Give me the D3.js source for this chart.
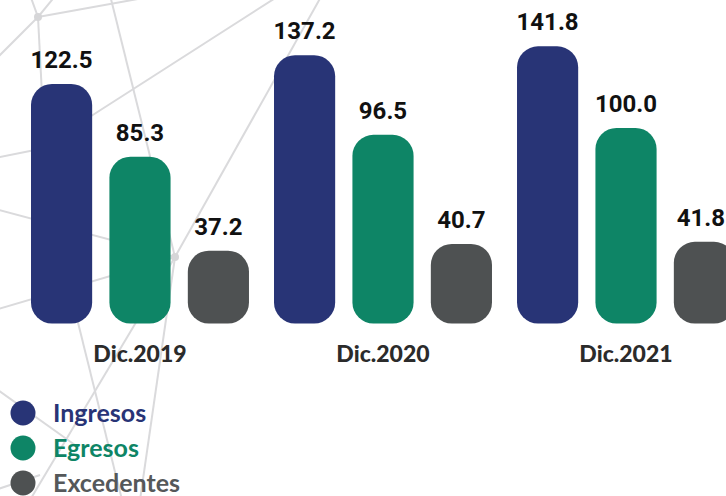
<!DOCTYPE html>
<html lang="es">
    <head>
        <meta charset="utf-8">
        <title>Ingresos, Egresos y Excedentes</title>
        <script type="text/javascript" src="https://cdn.jsdelivr.net/npm/d3@7/dist/d3.min.js"></script>
        <style>
            body { margin: 0; background: #ffffff; }
            .value { font-family: Roboto, sans-serif; font-weight: 700; font-size: 24px; fill: #111111; }
            .cat { font-family: Lato, sans-serif; font-weight: 900; font-size: 23px; fill: #2b2b2b; }
            .legend text { font-family: Lato, sans-serif; font-weight: 700; font-size: 25px; }
        </style>
    </head>
    <body>
        <script type="text/javascript">
            var w = 726;
            var h = 496;

            // data
            var years = ["Dic.2019", "Dic.2020", "Dic.2021"];
            var series = ["Ingresos", "Egresos", "Excedentes"];
            var ingresos = [122.5, 137.2, 141.8];
            var egresos = [85.3, 96.5, 100.0];
            var excedentes = [37.2, 40.7, 41.8];
            var colors = ["#283476", "#0e8566", "#4e5152"];
            var legendText = ["#283476", "#0e8566", "#55585a"];

            // light network in the background (decoration only)
            var meshLines = [
                [[38, 17], [30, -5]], [[38, 17], [56, -5]], [[38, 17], [160, -5]],
                [[38, 17], [-10, 65]], [[38, 17], [42, 95]],
                [[110, -5], [175, 257]], [[60, 136], [280, -5]], [[-5, 158], [60, 145]],
                [[175, 257], [322, -5]], [[175, 257], [-5, 209]], [[175, 257], [-5, 310]],
                [[175, 257], [30, 500]], [[175, 257], [140, 500]], [[60, 250], [122, 500]],
                [[-5, 388], [75, 445]], [[-5, 490], [40, 475]]
            ];
            var meshNodes = [[38, 17], [175, 257]];

            var baseY = 323.5;
            var pxPerUnit = 1.955;

            var rows = years.map(function (y, i) {
                return { year: y, values: [ingresos[i], egresos[i], excedentes[i]] };
            });

            var svg = d3.select("body").append("svg").attr("width", w).attr("height", h);

            var mesh = svg.append("g").attr("stroke", "#dadadc").attr("stroke-width", 2);
            mesh.selectAll("line").data(meshLines).enter().append("line")
                .attr("x1", function (d) { return d[0][0]; })
                .attr("y1", function (d) { return d[0][1]; })
                .attr("x2", function (d) { return d[1][0]; })
                .attr("y2", function (d) { return d[1][1]; });
            mesh.selectAll("circle").data(meshNodes).enter().append("circle")
                .attr("cx", function (d) { return d[0]; })
                .attr("cy", function (d) { return d[1]; })
                .attr("r", 4).attr("fill", "#d6d6d8").attr("stroke", "none");

            var x0 = d3.scaleBand().domain(years).range([31, 735]).paddingInner(0.103).paddingOuter(0);
            var x1 = d3.scaleBand().domain(series).range([0, x0.bandwidth()]).paddingInner(0.22);
            var y = d3.scaleLinear().domain([0, 150]).range([baseY, baseY - 150 * pxPerUnit]);

            var groups = svg.selectAll("g.group").data(rows).enter().append("g")
                .attr("class", "group")
                .attr("transform", function (d) { return "translate(" + x0(d.year) + ",0)"; });

            var bars = groups.selectAll("g.bar").data(function (d) {
                return d.values.map(function (v, i) { return { s: series[i], v: v, c: colors[i], gx: x0(d.year) }; });
            }).enter().append("g").attr("class", "bar");

            bars.append("rect")
                .attr("x", function (d) { return x1(d.s); })
                .attr("y", function (d) { return y(d.v); })
                .attr("width", x1.bandwidth())
                .attr("height", function (d) { return y(0) - y(d.v); })
                .attr("rx", 21).attr("ry", 21)
                .attr("fill", function (d) { return d.c; });

            bars.append("text").attr("class", "value")
                .attr("x", function (d) { return x1(d.s) + x1.bandwidth() / 2; })
                .attr("y", function (d) { return y(d.v) - 16; })
                .attr("text-anchor", "middle")
                .text(function (d) { return d.v.toFixed(1); })
                .each(function (d) {
                    // keep the last label inside the picture
                    var bb = this.getBBox();
                    if (d.gx + bb.x + bb.width > w - 1) {
                        d3.select(this).attr("text-anchor", "end").attr("x", w - 1 - d.gx);
                    }
                });

            groups.append("text").attr("class", "cat")
                .attr("x", x0.bandwidth() / 2)
                .attr("y", 362)
                .attr("text-anchor", "middle")
                .text(function (d) { return d.year; });

            // legend
            var legend = svg.append("g").attr("class", "legend")
                .selectAll("g").data(series).enter().append("g")
                .attr("transform", function (d, i) { return "translate(23," + (413 + i * 35) + ")"; });
            legend.append("circle").attr("r", 12.5).attr("fill", function (d, i) { return colors[i]; });
            legend.append("text").attr("x", 30).attr("y", 9)
                .attr("fill", function (d, i) { return legendText[i]; })
                .text(function (d) { return d; });
        </script>
    </body>
</html>
